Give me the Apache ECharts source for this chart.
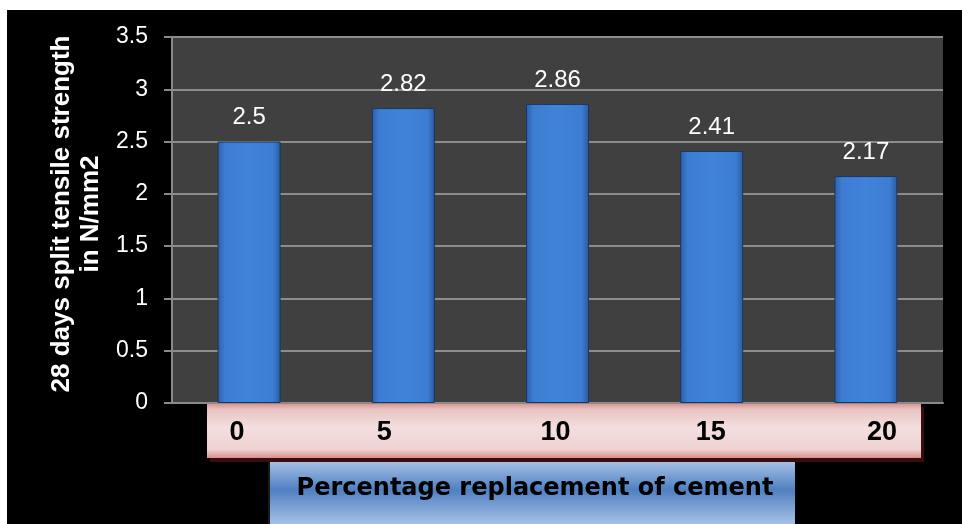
<!DOCTYPE html>
<html>
<head>
<meta charset="utf-8">
<script src="https://cdn.jsdelivr.net/npm/echarts@6/dist/echarts.min.js"></script>
<style>
html,body{margin:0;padding:0;background:#ffffff;width:962px;height:524px;overflow:hidden;}
#chart{position:absolute;left:7px;top:10px;width:955px;height:514px;}
</style>
</head>
<body>
<div id="chart"></div>
<script>
const categories = ['0', '5', '10', '15', '20'];
const strengthValues = [2.5, 2.82, 2.86, 2.41, 2.17];
const yTitle = '28 days split tensile strength\nin N/mm2';
const xTitle = 'Percentage replacement of cement';

// horizontal nudges of category labels (px), as placed in the reference
const labelShift = [-12, -19, -2, -1, 16];

const chart = echarts.init(document.getElementById('chart'), null, {renderer: 'canvas'});

const barGradient = new echarts.graphic.LinearGradient(0, 0, 1, 0, [
  {offset: 0, color: '#2c5fa6'},
  {offset: 0.12, color: '#3c7dd3'},
  {offset: 0.5, color: '#4183d8'},
  {offset: 0.88, color: '#3c7dd3'},
  {offset: 1, color: '#2a5b9f'}
]);

const option = {
  backgroundColor: '#000000',
  animation: false,
  grid: {
    left: 165, right: 19, top: 27, bottom: 121,
    show: true, backgroundColor: '#404040', borderWidth: 0
  },
  xAxis: {
    type: 'category',
    data: categories.map((c, i) => ({
      value: c,
      textStyle: {
        padding: labelShift[i] < 0 ? [0, -2 * labelShift[i], 0, 0] : [0, 0, 0, 2 * labelShift[i]]
      }
    })),
    axisLine: {show: true, lineStyle: {color: '#8a8a8a', width: 2}},
    axisTick: {show: false},
    axisLabel: {
      color: '#000000', fontFamily: 'Liberation Sans', fontWeight: 'bold',
      fontSize: 27, margin: 16
    },
    name: xTitle,
    nameLocation: 'middle',
    nameGap: 74,
    nameTextStyle: {
      color: '#000000', fontFamily: 'DejaVu Sans', fontWeight: 'bold', fontSize: 24,
      padding: [0, 45, 0, 0]
    }
  },
  yAxis: {
    type: 'value',
    min: 0, max: 3.5, interval: 0.5,
    axisLine: {show: true, lineStyle: {color: '#8a8a8a', width: 2}},
    axisTick: {show: true, length: 8, lineStyle: {color: '#8a8a8a', width: 2}},
    splitLine: {show: true, lineStyle: {color: '#8c8c8c', width: 2}},
    axisLabel: {
      color: '#ffffff', fontFamily: 'Liberation Sans', fontSize: 23, margin: 24
    },
    name: yTitle,
    nameLocation: 'middle',
    nameRotate: 90,
    nameGap: 60,
    nameTextStyle: {
      color: '#ffffff', fontFamily: 'Liberation Sans', fontWeight: 'bold', fontSize: 26,
      lineHeight: 29, align: 'center', padding: [0, 0, 0, 12]
    }
  },
  graphic: [
    {
      type: 'rect', z: -1,
      shape: {x: 200, y: 393, width: 714, height: 55},
      style: {
        fill: new echarts.graphic.LinearGradient(0, 0, 0, 1, [
          {offset: 0, color: '#d68e8c'},
          {offset: 0.12, color: '#e9c4c3'},
          {offset: 0.45, color: '#f3dfde'},
          {offset: 0.85, color: '#efd2d1'},
          {offset: 1, color: '#d88f8d'}
        ]),
        shadowColor: '#3a0c0c', shadowOffsetX: 3, shadowOffsetY: 4, shadowBlur: 0
      }
    },
    {
      type: 'rect', z: -1,
      shape: {x: 263, y: 452, width: 525, height: 62},
      style: {
        fill: new echarts.graphic.LinearGradient(0, 0, 0, 1, [
          {offset: 0, color: '#a3bfe5'},
          {offset: 0.45, color: '#4f80c1'},
          {offset: 1, color: '#a6c1e6'}
        ]),
        shadowColor: '#1a1a1a', shadowOffsetX: -2, shadowOffsetY: 0, shadowBlur: 0
      }
    }
  ],
  series: [{
    type: 'bar',
    data: strengthValues,
    barWidth: 63,
    itemStyle: {
      color: barGradient,
      borderColor: '#1c3560',
      borderWidth: 1
    },
    label: {
      show: true, position: 'top', distance: 12,
      color: '#ffffff', fontFamily: 'Liberation Sans', fontSize: 24
    }
  }]
};
chart.setOption(option);
</script>
</body>
</html>
